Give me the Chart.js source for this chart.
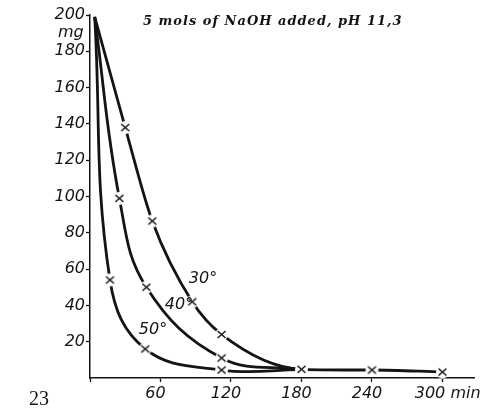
<!DOCTYPE html>
<html>
<head>
<meta charset="utf-8">
<script src="https://cdn.jsdelivr.net/npm/chart.js@4"></script>
<style>
  html, body { margin: 0; padding: 0; background: #fff; }
  #wrap { width: 482px; height: 413px; position: relative; }
</style>
</head>
<body>
<div id="wrap"><canvas id="chart" width="482" height="413"></canvas></div>
<script>
// time in minutes, remaining amount in mg (30° runs on to 300 min)
const minutes30 = [4, 30, 53, 87, 112, 180, 240, 300];
const mg30 = [199, 138, 86.5, 42, 24, 4.8, 4.4, 3.3];

const minutes40 = [4, 25, 48, 112, 180];
const mg40 = [199, 99, 50, 11, 4.8];

const minutes50 = [4, 17, 47, 112, 180];
const mg50 = [199, 54, 16, 4.4, 4.6];

const xTicks = [60, 120, 180, 240, 300];
const yTicks = [20, 40, 60, 80, 100, 120, 140, 160, 180, 200];

const ink = '#141414';
const tickFont = { family: 'DejaVu Sans', size: 16, style: 'italic' };

// little "x" with a white halo so the curve breaks around it
function crossMark() {
  const c = document.createElement('canvas');
  c.width = 15; c.height = 15;
  const g = c.getContext('2d');
  g.fillStyle = '#fff';
  g.beginPath(); g.arc(7.5, 7.5, 6.5, 0, Math.PI * 2); g.fill();
  g.strokeStyle = ink; g.lineWidth = 1.5;
  g.beginPath();
  g.moveTo(3.5, 4); g.lineTo(11.5, 11);
  g.moveTo(11.5, 4); g.lineTo(3.5, 11);
  g.stroke();
  return c;
}
const mark = crossMark();

function series(xs, ys, smooth) {
  const ds = {
    data: xs.map((x, i) => ({ x: x, y: ys[i] })),
    borderColor: ink,
    borderWidth: 2.8,
    pointStyle: mark,
    pointRadius: xs.map((x, i) => i === 0 ? 0 : 5),
    pointHoverRadius: 0,
    clip: false
  };
  if (smooth === 'monotone') ds.cubicInterpolationMode = 'monotone';
  else ds.tension = smooth;
  return ds;
}

// extra texts: heading, units, curve temperatures, page number
const labelsPlugin = {
  id: 'labels',
  afterDraw(chart) {
    const ctx = chart.ctx;
    ctx.save();
    ctx.fillStyle = ink;
    ctx.textBaseline = 'middle';

    ctx.font = 'italic bold 13px "DejaVu Serif"';
    ctx.letterSpacing = '1px';
    ctx.textAlign = 'left';
    ctx.fillText('5 mols of NaOH added, pH 11,3', 143, 22);
    ctx.letterSpacing = '0px';

    ctx.font = 'italic 16px "DejaVu Sans"';
    ctx.fillText('mg', 58, 33);
    ctx.textAlign = 'center';
    ctx.fillText('30°', 203, 279);
    ctx.fillText('40°', 179, 305);
    ctx.fillText('50°', 153, 330);

    ctx.font = '20px "Liberation Serif"';
    ctx.fillText('23', 39, 400);
    ctx.restore();
  }
};

new Chart(document.getElementById('chart'), {
  type: 'line',
  data: {
    datasets: [
      series(minutes30, mg30, 'monotone'),
      series(minutes40, mg40, 0.4),
      series(minutes50, mg50, 0.4)
    ]
  },
  options: {
    responsive: false,
    animation: false,
    layout: { padding: { left: 0, top: 15, right: 4, bottom: 0 } },
    plugins: { legend: { display: false }, tooltip: { enabled: false } },
    scales: {
      x: {
        type: 'linear',
        min: 0,
        max: 327,
        afterFit(scale) {
          scale.height = 35;
          scale.paddingLeft = 0;
          scale.paddingRight = 0;
        },
        afterBuildTicks(scale) {
          scale.ticks = [0].concat(xTicks).map(v => ({ value: v }));
        },
        ticks: {
          color: ink,
          font: tickFont,
          padding: 2,
          maxRotation: 0,
          autoSkip: false,
          labelOffset: -5,
          callback: v => v === 300 ? '    300 min' : (xTicks.includes(v) ? String(v) : '')
        },
        grid: { drawOnChartArea: false, tickLength: 4, tickColor: ink, tickWidth: 1.3 },
        border: { color: ink, width: 1.5 }
      },
      y: {
        min: 0,
        max: 200,
        afterFit(scale) { scale.width = 90; },
        afterBuildTicks(scale) {
          scale.ticks = yTicks.map(v => ({ value: v }));
        },
        ticks: {
          color: ink,
          font: tickFont,
          padding: 1,
          callback: v => String(v)
        },
        grid: { drawOnChartArea: false, tickLength: 4, tickColor: ink, tickWidth: 1.3 },
        border: { color: ink, width: 1.5 }
      }
    }
  },
  plugins: [labelsPlugin]
});
</script>
</body>
</html>
